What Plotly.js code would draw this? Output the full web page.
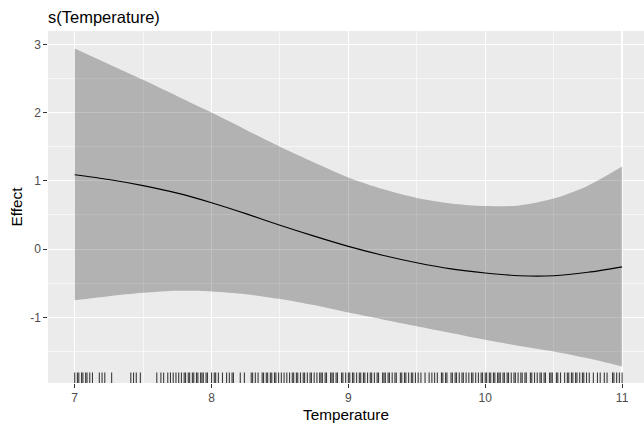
<!DOCTYPE html>
<html>
<head>
<meta charset="utf-8">
<script src="https://cdn.plot.ly/plotly-3.0.1.min.js"></script>
<style>
  html, body { margin: 0; padding: 0; background: #ffffff; }
  #chart { width: 644px; height: 426px; }
</style>
</head>
<body>
<div id="chart"></div>
<script>
// Smooth term: estimated partial effect of Temperature with its confidence band
const temperature = [7, 7.25, 7.5, 7.75, 8, 8.25, 8.5, 8.75, 9, 9.25, 9.5, 9.75, 10, 10.25, 10.5, 10.75, 11];
const effect = [1.09, 1.02, 0.93, 0.82, 0.68, 0.52, 0.35, 0.19, 0.04, -0.09, -0.20, -0.29, -0.35, -0.39, -0.39, -0.34, -0.26];
const upper = [2.94, 2.71, 2.48, 2.24, 2.00, 1.75, 1.50, 1.27, 1.05, 0.88, 0.75, 0.67, 0.63, 0.64, 0.74, 0.93, 1.21];
const lower = [-0.75, -0.69, -0.64, -0.61, -0.62, -0.66, -0.73, -0.82, -0.93, -1.03, -1.13, -1.23, -1.33, -1.42, -1.50, -1.60, -1.72];

// Observed temperatures (rug)
const observed = [
  7.00, 7.02, 7.03, 7.05, 7.06, 7.08, 7.09, 7.11, 7.13,
  7.18, 7.20, 7.22, 7.27,
  7.41, 7.43, 7.45, 7.48,
  7.60, 7.63, 7.65, 7.68, 7.70, 7.72, 7.74, 7.76, 7.78, 7.80, 7.81, 7.83, 7.84,
  7.86, 7.87, 7.89, 7.90, 7.92, 7.93, 7.94, 7.96, 7.97, 8.00, 8.02, 8.03, 8.05,
  8.08, 8.11, 8.13, 8.15, 8.16, 8.21, 8.24, 8.29, 8.30,
  8.32, 8.34, 8.37, 8.38, 8.40, 8.41, 8.43, 8.44, 8.46, 8.47, 8.49, 8.51, 8.53,
  8.55, 8.57, 8.59, 8.60, 8.62, 8.63, 8.65, 8.67, 8.68, 8.70, 8.72, 8.73, 8.75,
  8.77, 8.79, 8.80, 8.81, 8.83, 8.84, 8.87, 8.88, 8.89, 8.91, 8.92, 8.95, 8.96,
  8.98, 9.00, 9.01,
  9.03, 9.04, 9.06, 9.08, 9.09, 9.11, 9.12, 9.14, 9.16, 9.17, 9.19, 9.21, 9.22,
  9.25, 9.26, 9.27, 9.29, 9.30, 9.32, 9.34, 9.35, 9.38, 9.39, 9.41, 9.42, 9.44,
  9.46, 9.47, 9.49, 9.51, 9.53, 9.56, 9.59, 9.61, 9.63, 9.65, 9.68,
  9.69, 9.71, 9.72, 9.75, 9.76, 9.78, 9.79, 9.81, 9.83, 9.84, 9.86, 9.88, 9.90,
  9.91, 9.93, 9.95, 9.97, 9.98, 10.00, 10.01, 10.03, 10.04, 10.06, 10.07, 10.09,
  10.10, 10.11, 10.13, 10.14, 10.16, 10.17, 10.19, 10.21, 10.22, 10.24, 10.26,
  10.27, 10.29, 10.30, 10.33, 10.34, 10.36,
  10.38, 10.40, 10.41, 10.43, 10.44, 10.47, 10.48, 10.49, 10.52, 10.53, 10.55,
  10.58, 10.60, 10.61, 10.63, 10.64, 10.66, 10.67, 10.69, 10.71, 10.72, 10.74,
  10.76, 10.79, 10.82, 10.84, 10.87, 10.89, 10.93, 10.94, 10.96, 10.98, 11.00
];

const xTicks = [7, 8, 9, 10, 11];
const yTicks = [-1, 0, 1, 2, 3];

// Axis extents and rug length (fraction of the panel height)
const xRange = [6.805, 11.16];
const yRange = [-1.962, 3.196];
const rugFrac = 0.03;

const rugTop = yRange[0] + rugFrac * (yRange[1] - yRange[0]);
const rugX = [], rugY = [];
observed.forEach(t => { rugX.push(t, t, null); rugY.push(yRange[0], rugTop, null); });

const traces = [
  { x: temperature, y: lower, type: 'scatter', mode: 'lines',
    line: { width: 0, shape: 'spline', smoothing: 0.8 }, hoverinfo: 'skip', showlegend: false },
  { x: temperature, y: upper, type: 'scatter', mode: 'lines', fill: 'tonexty',
    fillcolor: 'rgba(0,0,0,0.245)',
    line: { width: 0, shape: 'spline', smoothing: 0.8 }, hoverinfo: 'skip', showlegend: false },
  { x: temperature, y: effect, type: 'scatter', mode: 'lines',
    line: { color: '#000000', width: 1.1, shape: 'spline', smoothing: 0.8 }, showlegend: false },
  { x: rugX, y: rugY, type: 'scatter', mode: 'lines',
    line: { color: 'rgba(0,0,0,0.75)', width: 1.1 }, hoverinfo: 'skip', showlegend: false }
];

const font = 'Liberation Sans, Arial, sans-serif';

const layout = {
  width: 644, height: 426,
  margin: { l: 48, r: 0, t: 31, b: 43, pad: 0 },
  paper_bgcolor: '#ffffff',
  plot_bgcolor: '#ebebeb',
  showlegend: false,
  font: { family: font, color: '#000000' },
  title: {
    text: 's(Temperature)', font: { family: font, size: 16.5, color: '#000000' },
    xref: 'container', yref: 'container', x: 48 / 644, xanchor: 'left',
    y: 1 - 17.5 / 426, yanchor: 'middle'
  },
  xaxis: {
    range: xRange, tickvals: xTicks, ticktext: xTicks.map(String),
    showgrid: true, gridcolor: '#ffffff', gridwidth: 1.2,
    minor: { dtick: 0.5, tick0: 6.5, showgrid: true, gridcolor: '#ffffff', gridwidth: 0.6, ticks: '' },
    zeroline: false, showline: false,
    ticks: 'outside', ticklen: 3.7, tickwidth: 1, tickcolor: '#333333',
    tickfont: { family: font, size: 12, color: '#4d4d4d' },
    title: { text: 'Temperature', font: { family: font, size: 15.3, color: '#000000' }, standoff: 5 },
    automargin: false, fixedrange: true
  },
  yaxis: {
    range: yRange, tickvals: yTicks, ticktext: yTicks.map(String),
    showgrid: true, gridcolor: '#ffffff', gridwidth: 1.2,
    minor: { dtick: 0.5, tick0: -1.5, showgrid: true, gridcolor: '#ffffff', gridwidth: 0.6, ticks: '' },
    zeroline: false, showline: false,
    ticks: 'outside', ticklen: 3.7, tickwidth: 1, tickcolor: '#333333',
    tickfont: { family: font, size: 12, color: '#4d4d4d' },
    title: { text: 'Effect', font: { family: font, size: 15.3, color: '#000000' }, standoff: 3 },
    automargin: false, fixedrange: true
  }
};

Plotly.newPlot('chart', traces, layout, { staticPlot: true, displayModeBar: false });
</script>
</body>
</html>
